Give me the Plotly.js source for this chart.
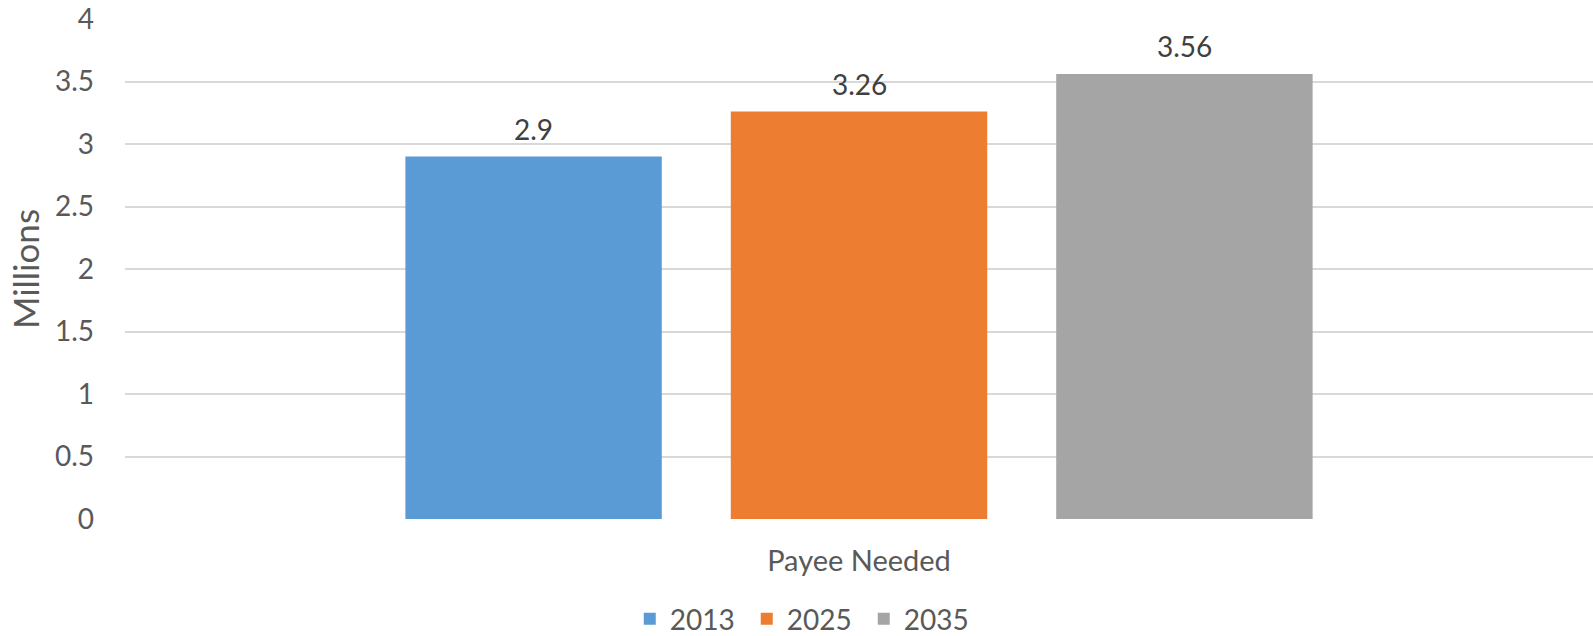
<!DOCTYPE html>
<html>
<head>
<meta charset="utf-8">
<script src="https://cdn.plot.ly/plotly-3.0.1.min.js"></script>
<style>html,body{margin:0;padding:0;background:#fff;}#chart{width:1593px;height:636px;}</style>
</head>
<body>
<div id="chart"></div>
<script>
const categories = ["Payee Needed"];
const seriesNames = ["2013", "2025", "2035"];
const seriesValues = [[2.9], [3.26], [3.56]];
const seriesColors = ["#5B9BD5", "#ED7D31", "#A5A5A5"];
const yTickVals = [0, 0.5, 1, 1.5, 2, 2.5, 3, 3.5, 4];
const yTickText = ["0", "0.5", "1", "1.5", "2", "2.5", "3", "3.5", "4"];

const FONT = "Lato, 'Open Sans', sans-serif";
const bargap = 0.335;
const bargroupgap = 0.212;

const traces = seriesNames.map((name, i) => ({
  type: "bar",
  name: name,
  x: categories,
  y: seriesValues[i],
  marker: { color: seriesColors[i] },
  hoverinfo: "none"
}));

const slot = (1 - bargap) / seriesNames.length;
const annotations = [];
seriesNames.forEach((name, i) => {
  seriesValues[i].forEach((v, j) => {
    annotations.push({
      xref: "x", yref: "y",
      x: j + (i - (seriesNames.length - 1) / 2) * slot,
      y: v,
      text: String(v),
      showarrow: false,
      yanchor: "bottom",
      yshift: 9,
      font: { family: FONT, size: 28, color: "#404040" }
    });
  });
});

const layout = {
  width: 1593, height: 636,
  margin: { l: 125, r: 0, t: 19, b: 117 },
  paper_bgcolor: "#fff", plot_bgcolor: "#fff",
  barmode: "group",
  bargap: bargap,
  bargroupgap: bargroupgap,
  font: { family: FONT, size: 28, color: "#595959" },
  showlegend: true,
  legend: {
    orientation: "h",
    xref: "container", yref: "container",
    x: 0.5055, xanchor: "center",
    y: 17 / 636, yanchor: "middle",
    entrywidth: 72,
    entrywidthmode: "pixels",
    font: { family: FONT, size: 28, color: "#595959" },
    traceorder: "normal"
  },
  xaxis: {
    type: "category",
    range: [-0.5, 0.5],
    showgrid: false,
    zeroline: false,
    showline: false,
    ticks: "",
    ticklabelstandoff: 22,
    tickfont: { family: FONT, size: 29, color: "#595959" },
    fixedrange: true
  },
  yaxis: {
    range: [0, 4],
    tickvals: yTickVals,
    ticktext: yTickText,
    showgrid: true,
    gridcolor: "#D9D9D9",
    gridwidth: 2,
    zeroline: false,
    showline: false,
    ticks: "",
    ticklabelstandoff: 30,
    tickfont: { family: FONT, size: 28, color: "#595959" },
    title: { text: "Millions", standoff: 4, font: { family: FONT, size: 35, color: "#595959" } },
    automargin: false,
    fixedrange: true
  },
  annotations: annotations
};

Plotly.newPlot("chart", traces, layout, { displayModeBar: false, staticPlot: true });
</script>
</body>
</html>
